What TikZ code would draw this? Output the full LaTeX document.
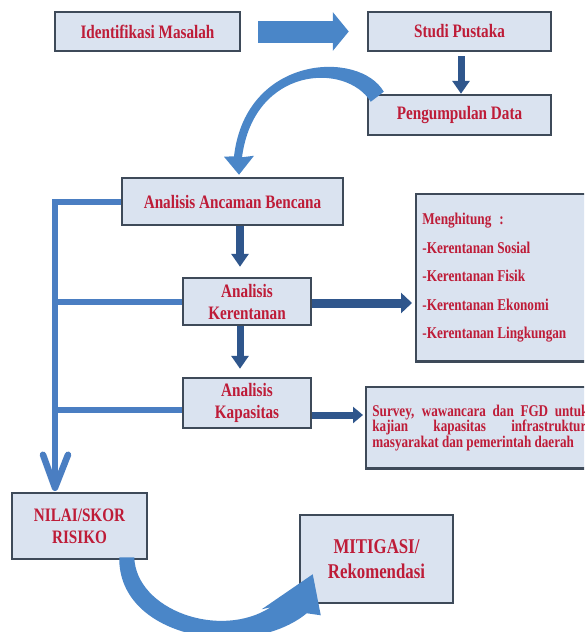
\documentclass[tikz,border=0pt]{standalone}
\usepackage{fontspec}
\setmainfont{Liberation Serif}[FakeStretch=0.8]
\usetikzlibrary{arrows.meta,calc}
\definecolor{boxfill}{HTML}{DAE3F0}
\definecolor{boxline}{HTML}{3E4A59}
\definecolor{txtred}{HTML}{BE1C38}
\definecolor{lightarrow}{HTML}{4A86C8}
\definecolor{darkarrow}{HTML}{2F568C}
\definecolor{branchblue}{HTML}{4A7EC2}
\begin{document}
\begin{tikzpicture}[x=1pt,y=-1pt,
  box/.style={draw=boxline, line width=2.5pt, fill=boxfill, text=txtred,
    font=\bfseries\fontsize{19}{22}\selectfont, align=center, inner sep=0pt},
  widebox/.style={fill=boxfill, text=txtred,
    anchor=north west, inner sep=0pt, inner xsep=6.25pt, minimum width=260pt},
  openedge/.style={boxline, line width=2.5pt},
  bigarrow/.style={lightarrow, line width=22pt, -{Triangle[length=16pt,width=38pt]}},
  darrow/.style={darkarrow, line width=7pt, -{Triangle[length=13pt,width=17pt]}},
  branch/.style={branchblue, line width=6pt}]
\useasboundingbox (0,0) rectangle (584,632);
\fill[white] (0,0) rectangle (584,632);

% boxes
\node[box, minimum width=185pt, minimum height=39pt] (ident) at (147.5,31.5) {Identifikasi Masalah};
\node[box, minimum width=183pt, minimum height=39pt] (studi) at (459.5,31.5) {Studi Pustaka};
\node[box, minimum width=183pt, minimum height=40pt] (peng) at (459.5,115) {Pengumpulan Data};
\node[box, minimum width=221pt, minimum height=47pt] (ancaman) at (232.5,201.5) {Analisis Ancaman Bencana};
\node[box, minimum width=128pt, minimum height=47pt] (keren) at (247,301.5) {Analisis\\Kerentanan};
\node[box, minimum width=128pt, minimum height=50pt] (kapas) at (247,403) {Analisis\\Kapasitas};
\node[box, minimum width=135pt, minimum height=66pt] (nilai) at (79.5,526) {NILAI/SKOR\\RISIKO};
\node[box, minimum width=153pt, minimum height=88pt, font=\bfseries\fontsize{21}{25}\selectfont] (mitig) at (376.5,559) {MITIGASI/\\Rekomendasi};
\begin{scope}
\clip (0,0) rectangle (584,632);
\node[widebox, minimum height=167pt, font=\bfseries\fontsize{16.5}{28.5}\selectfont] (hitung) at (416,194)
  {\parbox{250pt}{\raggedright Menghitung\hspace{8pt}:\\-Kerentanan Sosial\\-Kerentanan Fisik\\-Kerentanan Ekonomi\\-Kerentanan Lingkungan}};
\draw[openedge] (hitung.north east) -- (hitung.north west) -- (hitung.south west) -- (hitung.south east);
\node[widebox, minimum height=81pt, font=\bfseries\fontsize{16.4}{15.5}\selectfont] (survey) at (366,387)
  {\parbox{250pt}{\noindent\parbox{216pt}{\tolerance=10000 Survey, wawancara dan FGD untuk\linebreak kajian kapasitas infrastruktur,\linebreak masyarakat dan pemerintah daerah}\hfill\null}};
\draw[openedge] (survey.north east) -- (survey.north west) -- (survey.south west) -- (survey.south east);
\end{scope}

% straight connectors
\draw[bigarrow] ([xshift=17pt]ident.east) -- ([xshift=-18pt]studi.west);
\draw[darrow] ([xshift=1.5pt,yshift=-4pt]studi.south) -- ([xshift=1.5pt]peng.north);
\draw[darrow, line width=8pt] ([xshift=7.5pt]ancaman.south) -- ([xshift=-7pt,yshift=10pt]keren.north);
\draw[darrow] ([xshift=-7pt]keren.south) -- ([xshift=-7pt,yshift=8pt]kapas.north);
\coordinate (kerr) at ([yshift=-1.5pt]keren.east);
\draw[darrow, line width=9pt, -{Triangle[length=11pt,width=20pt]}] (kerr) -- ($(kerr -| hitung.west)+(-4,0)$);
\coordinate (kapr) at ([yshift=-12pt]kapas.east);
\draw[darrow, -{Triangle[length=10pt,width=16pt]}] (kapr) -- ($(kapr -| survey.west)+(-3,0)$);

% left branches
\coordinate (lx) at (55,0);
\coordinate (tipv) at ($(lx |- nilai.north)+(0,-4)$);
\draw[branch] (ancaman.west) -- (ancaman.west -| lx) -- (tipv);
\draw[branch] (keren.west) -- (keren.west -| lx);
\coordinate (kapl) at ([yshift=-7pt]kapas.west);
\draw[branch] (kapl) -- (kapl -| lx);
\draw[branch, line width=6.5pt, line join=round, line cap=round] ($(tipv)+(-12,-33)$) -- (tipv) -- ($(tipv)+(13,-33)$);

% curved block arrows
\fill[lightarrow] ([shift={(17,-2)}]peng.north west) .. controls (360,50) and (246,54) .. ([shift={(1.5,-20.5)}]ancaman.north)
  -- ([shift={(-8.5,-20)}]ancaman.north) -- ([shift={(6.5,-2)}]ancaman.north) -- ([shift={(21.5,-21)}]ancaman.north)
  -- ([shift={(9.5,-19.5)}]ancaman.north) .. controls (254,66) and (346,62) .. ([shift={(4,8)}]peng.north west) -- cycle;
\begin{scope}
\clip (0,0) rectangle (584,632);
\fill[lightarrow] ([shift={(-29,-3)}]nilai.south east) .. controls (118,640) and (250,660) .. ([shift={(8,9)}]mitig.south west)
  -- ([shift={(22,11)}]mitig.south west) -- ([shift={(14,-30)}]mitig.south west) -- ([shift={(-37,5)}]mitig.south west)
  -- ([shift={(-28,3)}]mitig.south west) .. controls (220,640) and (136,610) .. ([shift={(-14,-3)}]nilai.south east) -- cycle;
\end{scope}
\end{tikzpicture}
\end{document}
